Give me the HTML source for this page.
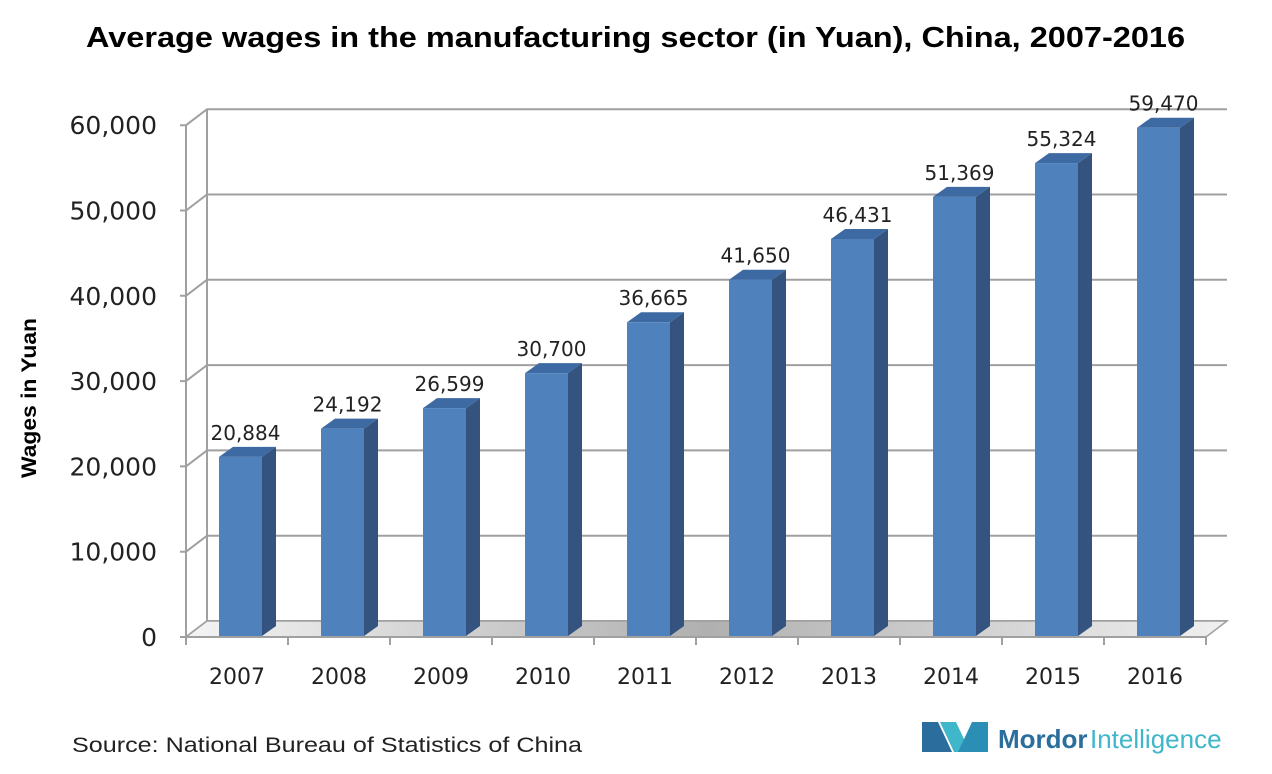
<!DOCTYPE html>
<html><head><meta charset="utf-8"><style>
body{margin:0;background:#fff;width:1272px;height:769px;overflow:hidden;font-family:"Liberation Sans",sans-serif}
</style></head><body>
<svg width="1272" height="769" viewBox="0 0 1272 769">
<defs>
<linearGradient id="fl" x1="0" y1="0" x2="1" y2="0">
<stop offset="0" stop-color="#f4f4f4"/><stop offset="0.5" stop-color="#b0b0b0"/><stop offset="1" stop-color="#f0f0f0"/>
</linearGradient>
</defs>
<text x="86" y="47" textLength="1099" lengthAdjust="spacingAndGlyphs" font-size="29" font-weight="bold" fill="#000">Average wages in the manufacturing sector (in Yuan), China, 2007-2016</text>
<text transform="translate(36,398) rotate(-90)" text-anchor="middle" textLength="160" lengthAdjust="spacingAndGlyphs" font-size="21" font-weight="bold">Wages in Yuan</text>
<g id="grid"></g><g id="floor"></g><g id="bars"></g><g id="axes"></g>
<text x="72" y="752" textLength="510" lengthAdjust="spacingAndGlyphs" font-size="21" fill="#222">Source: National Bureau of Statistics of China</text>
<g>
<polygon points="922,752 922,722 938,722 952,752" fill="#2b6e9e"/>
<polygon points="940,722 956,722 970,752 954,752" fill="#3fb6c9"/>
<polygon points="958,752 972,722 988,722 988,752" fill="#2b8fb5"/>
<text x="998" y="748" font-size="26" fill="#2b6e9e" font-weight="bold">Mordor</text>
<text x="1090" y="748" font-size="26" fill="#3fb6c9">Intelligence</text>
</g>
</svg>
<script>
const years=["2007","2008","2009","2010","2011","2012","2013","2014","2015","2016"];
const wages=[20884,24192,26599,30700,36665,41650,46431,51369,55324,59470];
const labels=["20,884","24,192","26,599","30,700","36,665","41,650","46,431","51,369","55,324","59,470"];
const ticks=[0,10000,20000,30000,40000,50000,60000];
const tickLabels=["0","10,000","20,000","30,000","40,000","50,000","60,000"];
const NS="http://www.w3.org/2000/svg";
const y0=637,sc=8.53/1000,x0=186,step=102,dx=21,dy=-16;
const Y=v=>y0-v*sc;
const DV='"DejaVu Sans",sans-serif';
function mk(t,a,p){const e=document.createElementNS(NS,t);for(const k in a)e.setAttribute(k,a[k]);p.appendChild(e);return e;}
const g=document.getElementById('grid'),fl=document.getElementById('floor'),b=document.getElementById('bars'),ax=document.getElementById('axes');
ticks.forEach((t,i)=>{
 const y=Y(t);
 const l=mk('polyline',{points:`${x0-6},${y} ${x0},${y} ${x0+dx},${y+dy} ${x0+dx+step*10},${y+dy}`,fill:'none',stroke:'#a0a0a0','stroke-width':2},g);
 
 
 const tx=mk('text',{x:157,y:y+9,'text-anchor':'end','font-size':25,fill:'#222','font-family':DV},ax);
 tx.textContent=tickLabels[i];
 
 
});
mk('line',{x1:x0+dx,y1:Y(0)+dy,x2:x0+dx,y2:Y(60000)+dy,stroke:'#a0a0a0','stroke-width':2},g);
mk('line',{x1:x0,y1:Y(0),x2:x0,y2:Y(60000),stroke:'#a0a0a0','stroke-width':2},g);
const f=mk('polygon',{points:`${x0},${y0} ${x0+dx},${y0+dy} ${x0+dx+step*10},${y0+dy} ${x0+step*10},${y0}`,fill:'url(#fl)',stroke:'#a0a0a0','stroke-width':1.5},fl);


mk('line',{x1:x0,y1:y0,x2:x0+step*10,y2:y0,stroke:'#a0a0a0','stroke-width':2},ax);
years.forEach((yr,i)=>{
 const bx=x0+step*i+33,w=43,top=Y(wages[i])-2,bot=y0-1,d=14,e=-10;
 const gr=mk('g',{},b);
 
 
 mk('polygon',{points:`${bx+w},${bot} ${bx+w+d},${bot+e} ${bx+w+d},${top+e} ${bx+w},${top}`,fill:'#34547f'},gr);
 mk('polygon',{points:`${bx},${top} ${bx+d},${top+e} ${bx+w+d},${top+e} ${bx+w},${top}`,fill:'#3d6aa3'},gr);
 mk('rect',{x:bx,y:top,width:w,height:bot-top,fill:'#4f81bd'},gr);
 const t=mk('text',{x:bx+w/2+5,y:top-17,'text-anchor':'middle','font-size':20,fill:'#222','font-family':DV},b);
 t.textContent=labels[i];
 
 
 const c=mk('text',{x:x0+step*i+51,y:684,'text-anchor':'middle','font-size':22,fill:'#222','font-family':DV},ax);
 c.textContent=yr;
 
 
});
for(let i=0;i<=10;i++)mk('line',{x1:x0+step*i,y1:y0,x2:x0+step*i,y2:y0+8,stroke:'#a0a0a0','stroke-width':2},ax);
</script>
</body></html>
